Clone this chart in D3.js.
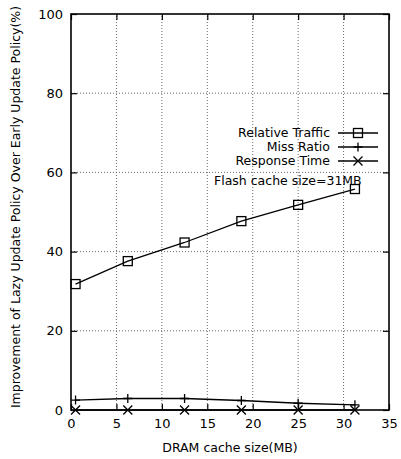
<!DOCTYPE html>
<html>
<head>
<meta charset="utf-8">
<script src="https://cdn.jsdelivr.net/npm/d3@7"></script>
<style>
  html, body { margin: 0; padding: 0; background: #fff; }
  svg { display: block; font-family: "DejaVu Sans", sans-serif; }
</style>
</head>
<body>
<svg id="chart" width="401" height="459"></svg>
<script>
// DRAM cache sizes (MB)
const dramSizes = [0.5, 6.25, 12.5, 18.75, 25, 31.25];
// Improvement (%) of lazy update over early update
const relativeTraffic = [31.8, 37.6, 42.3, 47.7, 51.8, 55.8];
const missRatio = [2.5, 2.9, 2.9, 2.4, 1.7, 1.3];
const responseTime = [0, 0, 0, 0, 0, 0];
const seriesNames = ["Relative Traffic", "Miss Ratio", "Response Time"];
const xTicks = [0, 5, 10, 15, 20, 25, 30, 35];
const yTicks = [0, 20, 40, 60, 80, 100];

const svg = d3.select("#chart");
const m = { left: 71, right: 12, top: 14, bottom: 49 };
const W = 401, H = 459;
const x = d3.scaleLinear().domain([0, 35]).range([m.left, W - m.right]);
const y = d3.scaleLinear().domain([0, 100]).range([H - m.bottom, m.top]);
const fs = 12.5, tickFs = 13;

// dotted grid
const grid = svg.append("g").attr("stroke", "#444").attr("stroke-width", 0.8)
  .attr("stroke-dasharray", "1,2");
xTicks.slice(1, -1).forEach(t => grid.append("line")
  .attr("x1", x(t)).attr("x2", x(t)).attr("y1", y(0)).attr("y2", y(100)));
yTicks.slice(1, -1).forEach(t => grid.append("line")
  .attr("x1", x(0)).attr("x2", x(35)).attr("y1", y(t)).attr("y2", y(t)));

// axes with inward ticks on all four sides
const tickLen = 6;
const bottomAxis = svg.append("g").attr("transform", `translate(0,${y(0)})`)
  .call(d3.axisBottom(x).tickValues(xTicks).tickSize(-tickLen).tickPadding(9));
const topAxis = svg.append("g").attr("transform", `translate(0,${y(100)})`)
  .call(d3.axisTop(x).tickValues(xTicks).tickSize(-tickLen).tickFormat(""));
const leftAxis = svg.append("g").attr("transform", `translate(${x(0)},0)`)
  .call(d3.axisLeft(y).tickValues(yTicks).tickSize(-tickLen).tickPadding(8));
const rightAxis = svg.append("g").attr("transform", `translate(${x(35)},0)`)
  .call(d3.axisRight(y).tickValues(yTicks).tickSize(-tickLen).tickFormat(""));
[bottomAxis, topAxis, leftAxis, rightAxis].forEach(a => {
  a.select(".domain").remove();
  a.selectAll(".tick line").attr("stroke", "#000").attr("stroke-width", 1.2);
  a.selectAll("text").attr("font-family", "DejaVu Sans").attr("font-size", tickFs).attr("fill", "#000");
});

// plot border
svg.append("rect").attr("x", x(0)).attr("y", y(100))
  .attr("width", x(35) - x(0)).attr("height", y(0) - y(100))
  .attr("fill", "none").attr("stroke", "#000").attr("stroke-width", 1.6);

// axis titles
svg.append("text").attr("x", (x(0) + x(35)) / 2).attr("y", 452)
  .attr("text-anchor", "middle").attr("font-size", fs).text("DRAM cache size(MB)");
svg.append("text").attr("transform", `translate(19.5,207) rotate(-90)`)
  .attr("text-anchor", "middle").attr("font-size", fs)
  .text("Improvement of Lazy Update Policy Over Early Update Policy(%)");

// marker symbols
const ms = 4.5;
const markers = {
  square: (g, cx, cy) => g.append("rect").attr("x", cx - ms).attr("y", cy - ms)
    .attr("width", 2 * ms).attr("height", 2 * ms).attr("fill", "none")
    .attr("stroke", "#000").attr("stroke-width", 1.3),
  plus: (g, cx, cy) => g.append("path")
    .attr("d", `M${cx - ms},${cy}H${cx + ms}M${cx},${cy - ms}V${cy + ms}`)
    .attr("stroke", "#000").attr("stroke-width", 1.3),
  cross: (g, cx, cy) => g.append("path")
    .attr("d", `M${cx - ms},${cy - ms}L${cx + ms},${cy + ms}M${cx - ms},${cy + ms}L${cx + ms},${cy - ms}`)
    .attr("stroke", "#000").attr("stroke-width", 1.3)
};

const series = [
  { name: seriesNames[0], values: relativeTraffic, marker: "square" },
  { name: seriesNames[1], values: missRatio, marker: "plus" },
  { name: seriesNames[2], values: responseTime, marker: "cross" }
];

const line = d3.line().x(d => x(d[0])).y(d => y(d[1]));
series.forEach(s => {
  const pts = dramSizes.map((d, i) => [d, s.values[i]]);
  const g = svg.append("g");
  g.append("path").datum(pts).attr("d", line).attr("fill", "none")
    .attr("stroke", "#000").attr("stroke-width", 1.3);
  pts.forEach(p => markers[s.marker](g, x(p[0]), y(p[1])));
});

// legend
const legY = [133, 147, 161];
series.forEach((s, i) => {
  const g = svg.append("g");
  g.append("text").attr("x", 330).attr("y", legY[i]).attr("dy", "0.35em")
    .attr("text-anchor", "end").attr("font-size", fs).text(s.name);
  g.append("line").attr("x1", 338).attr("x2", 378).attr("y1", legY[i]).attr("y2", legY[i])
    .attr("stroke", "#000").attr("stroke-width", 1.3);
  markers[s.marker](g, 358, legY[i]);
});
svg.append("text").attr("x", 214).attr("y", 181).attr("dy", "0.35em")
  .attr("font-size", fs).text("Flash cache size=31MB");
</script>
</body>
</html>
